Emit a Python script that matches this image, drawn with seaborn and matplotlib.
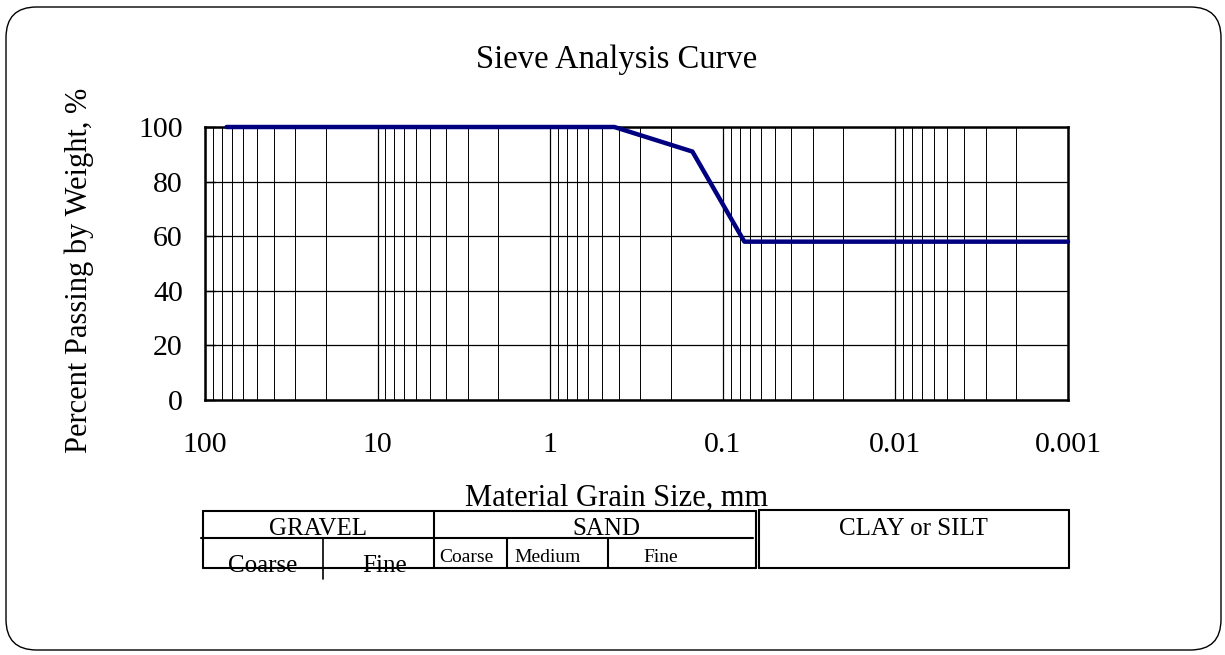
import matplotlib
matplotlib.use("Agg")
import matplotlib.pyplot as plt
from matplotlib.patches import FancyBboxPatch
from matplotlib.lines import Line2D
from matplotlib.ticker import LogLocator, NullFormatter
import seaborn as sns
import pandas as pd

# ---- data ----
sieve_mm = [75, 4.75, 2.0, 0.425, 0.15, 0.075, 0.001]
pct_passing = [100, 100, 100, 100, 91, 58, 58]
x_ticks = [100, 10, 1, 0.1, 0.01, 0.001]
x_tick_labels = ["100", "10", "1", "0.1", "0.01", "0.001"]
y_ticks = [0, 20, 40, 60, 80, 100]
title = "Sieve Analysis Curve"
x_label = "Material Grain Size, mm"
y_label = "Percent Passing by Weight, %"
main_classes = ["GRAVEL", "SAND", "CLAY or SILT"]
gravel_sub = ["Coarse", "Fine"]
sand_sub = ["Coarse", "Medium", "Fine"]

sns.set_theme(style="white")
plt.rcParams['font.family'] = ['Liberation Serif', 'DejaVu Serif']
plt.rcParams['text.color'] = 'black'
plt.rcParams['xtick.color'] = 'black'
plt.rcParams['ytick.color'] = 'black'
plt.rcParams['axes.labelcolor'] = 'black'

W, H = 1225, 655
fig = plt.figure(figsize=(W / 100, H / 100), dpi=100)

def fx(px):
    return px / W

def fy(py):
    return 1 - py / H

# outer rounded frame
frame = FancyBboxPatch((fx(6), fy(650)), fx(1221) - fx(6), fy(7) - fy(650),
                       boxstyle="round,pad=0,rounding_size=0.025",
                       transform=fig.transFigure, fill=False,
                       edgecolor="black", linewidth=1.0,
                       mutation_aspect=W / H)
fig.add_artist(frame)

ax = fig.add_axes([fx(205), fy(400), fx(1068) - fx(205), fy(127) - fy(400)])
ax.set_xscale("log")

df = pd.DataFrame({"size": sieve_mm, "passing": pct_passing})
sns.lineplot(data=df, x="size", y="passing", ax=ax, color="#000080",
             linewidth=3.2, estimator=None, sort=False, zorder=5, clip_on=False)

ax.set_xlim(100, 0.001)
ax.set_ylim(0, 100)
ax.set_xticks(x_ticks)
ax.set_xticklabels(x_tick_labels)
ax.xaxis.set_minor_locator(LogLocator(base=10, subs=[2, 3, 4, 5, 6, 7, 8, 9]))
ax.xaxis.set_minor_formatter(NullFormatter())
ax.set_yticks(y_ticks)
ax.grid(True, which="major", axis="both", color="black", linewidth=0.9)
ax.grid(True, which="minor", axis="x", color="black", linewidth=0.7)
ax.tick_params(axis="x", which="both", length=0, labelsize=21.5, pad=23,
               labelcolor="black")
ax.tick_params(axis="y", which="major", direction="in", length=7, width=1,
               color="black", labelsize=21.5, pad=16, left=True,
               labelcolor="black")
for s in ax.spines.values():
    s.set_color("black")
    s.set_linewidth(1.8)
ax.set_xlabel("")
ax.set_ylabel("")

fig.text(fx(617), fy(60), title, ha="center", va="center", fontsize=23.5, color="black")
fig.text(fx(79), fy(270), y_label, ha="center", va="center", rotation=90,
         fontsize=22, color="black")
fig.text(fx(617), fy(506), x_label, ha="center", va="baseline", fontsize=22, color="black")

# classification table
def hline(x0, x1, y, lw=1.5):
    fig.add_artist(Line2D([fx(x0), fx(x1)], [fy(y), fy(y)], color="black",
                          linewidth=lw, transform=fig.transFigure, zorder=3))

def vline(x, y0, y1, lw=1.5):
    fig.add_artist(Line2D([fx(x), fx(x)], [fy(y0), fy(y1)], color="black",
                          linewidth=lw, transform=fig.transFigure, zorder=3))

hline(203, 756, 511)
hline(201, 753, 538)
hline(203, 756, 568)
vline(203, 511, 568)
vline(434, 511, 568)
vline(756, 511, 568)
vline(323, 538, 579, lw=1.2)
vline(507, 538, 568)
vline(608, 538, 568)
# clay box
hline(759, 1069, 510)
hline(759, 1069, 568)
vline(759, 510, 568)
vline(1069, 510, 568)

tk = dict(ha="center", va="baseline", color="black", zorder=1)
fig.text(fx(318), fy(535), main_classes[0], fontsize=18, **tk)
fig.text(fx(606), fy(535), main_classes[1], fontsize=18, **tk)
fig.text(fx(913.5), fy(535), main_classes[2], fontsize=18, **tk)
fig.text(fx(263), fy(572), gravel_sub[0], fontsize=18, **tk)
fig.text(fx(385), fy(572), gravel_sub[1], fontsize=18, **tk)
fig.text(fx(466), fy(561.5), sand_sub[0], fontsize=14, **tk)
fig.text(fx(548), fy(561.5), sand_sub[1], fontsize=14, **tk)
fig.text(fx(661), fy(561.5), sand_sub[2], fontsize=14, **tk)

fig.savefig("out.png", dpi=100, facecolor="white")
